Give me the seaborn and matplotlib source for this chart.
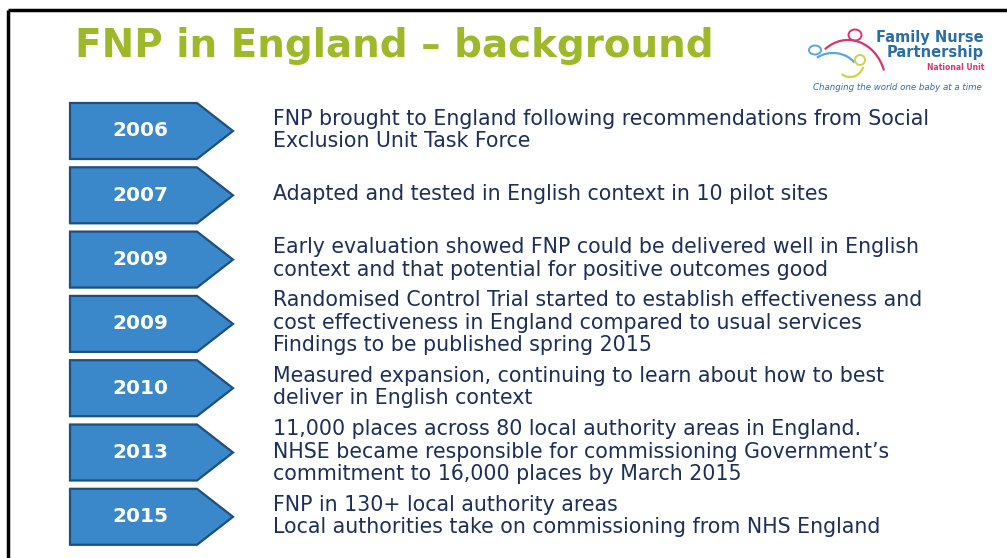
import numpy as np
import pandas as pd
import matplotlib
matplotlib.use("Agg")
import matplotlib.pyplot as plt
from matplotlib.patches import Arc, Ellipse
import seaborn as sns

# ---- content ----
title = "FNP in England \u2013 background"
years = ["2006", "2007", "2009", "2009", "2010", "2013", "2015"]
descriptions = [
    "FNP brought to England following recommendations from Social\nExclusion Unit Task Force",
    "Adapted and tested in English context in 10 pilot sites",
    "Early evaluation showed FNP could be delivered well in English\ncontext and that potential for positive outcomes good",
    "Randomised Control Trial started to establish effectiveness and\ncost effectiveness in England compared to usual services\nFindings to be published spring 2015",
    "Measured expansion, continuing to learn about how to best\ndeliver in English context",
    "11,000 places across 80 local authority areas in England.\nNHSE became responsible for commissioning Government\u2019s\ncommitment to 16,000 places by March 2015",
    "FNP in 130+ local authority areas\nLocal authorities take on commissioning from NHS England",
]
logo_name = "Family Nurse\nPartnership"
logo_unit = "National Unit"
logo_tag = "Changing the world one baby at a time"

# ---- style ----
sns.set_theme(style="white")
plt.rcParams['font.family'] = ['DejaVu Sans']
FILL = "#3a87c9"
EDGE = "#1d4f80"
TXT = "#1b2f58"
GREEN = "#9db92a"
LOGO_BLUE = "#2a6ea8"
PINK = "#d8356a"
LBLUE = "#56a9d9"
YGREEN = "#c9d64a"

W, H = 1007, 558
X0 = 70            # left of arrows (pixels)
FIRST = 131        # centre of first arrow
STEP = 64.3        # spacing between arrows
AH = 56            # arrow height
BODY = 127         # body length
TIP = 36           # tip length

fig = plt.figure(figsize=(W / 100, H / 100), dpi=100)
ax = fig.add_axes([0, 0, 1, 1])

centers = [FIRST + i * STEP for i in range(len(years))]
df = pd.DataFrame({"year": years, "centre": centers, "body": [BODY] * len(years)})

sns.barplot(data=df, x="body", y="centre", orient="h", native_scale=True,
            width=AH / STEP, color=FILL, saturation=1, linewidth=0,
            errorbar=None, ax=ax)

ax.set_xlim(-X0, W - X0)
ax.set_ylim(H, 0)
ax.axis("off")

for yr, desc, yc in zip(df["year"], descriptions, df["centre"]):
    top, bot = yc - AH / 2, yc + AH / 2
    xs = [0, BODY, BODY + TIP, BODY, 0]
    ys = [top, top, yc, bot, bot]
    ax.fill(xs, ys, facecolor=FILL, edgecolor=EDGE, linewidth=1.6, zorder=3)
    ax.text(BODY / 2 + 7, yc, yr, color="white", fontsize=14.5, fontweight="bold",
            ha="center", va="center", zorder=4)
    ax.text(273 - X0, yc - 1, desc, color=TXT, fontsize=14.8, ha="left", va="center",
            linespacing=1.15, zorder=4)

# title
ax.text(75 - X0, 46, title, color=GREEN, fontsize=28, fontweight="bold",
        ha="left", va="center")

# border
ax.plot([8 - X0, W - X0], [10, 10], color="black", lw=2.5, solid_capstyle="butt", zorder=5)
ax.plot([8 - X0, 8 - X0], [10, H], color="black", lw=2.5, solid_capstyle="butt", zorder=5)

# logo
ax.text(984 - X0, 45, logo_name, color=LOGO_BLUE, fontsize=10.5, fontweight="bold",
        ha="right", va="center", linespacing=1.0)
ax.text(984 - X0, 68, logo_unit, color=PINK, fontsize=5.5, fontweight="bold",
        ha="right", va="center")
ax.text(897 - X0, 87, logo_tag, color=LOGO_BLUE, fontsize=6.2, style="italic",
        ha="center", va="center")
ax.add_patch(Ellipse((855 - X0, 35), 13, 11, fill=False, ec=PINK, lw=1.4))
ax.add_patch(Arc((848 - X0, 85), 76, 90, theta1=237, theta2=338, ec=PINK, lw=1.6))
ax.add_patch(Ellipse((815 - X0, 50), 12, 9, fill=False, ec=LBLUE, lw=1.4))
ax.add_patch(Arc((833 - X0, 75), 52, 44, theta1=227, theta2=330, ec=LBLUE, lw=1.6))
ax.add_patch(Ellipse((860 - X0, 60), 10, 10, fill=False, ec=YGREEN, lw=1.4))
ax.add_patch(Arc((850 - X0, 62), 28, 30, theta1=20, theta2=125, ec=YGREEN, lw=1.6))

fig.savefig("out.png", dpi=100, facecolor="white")
